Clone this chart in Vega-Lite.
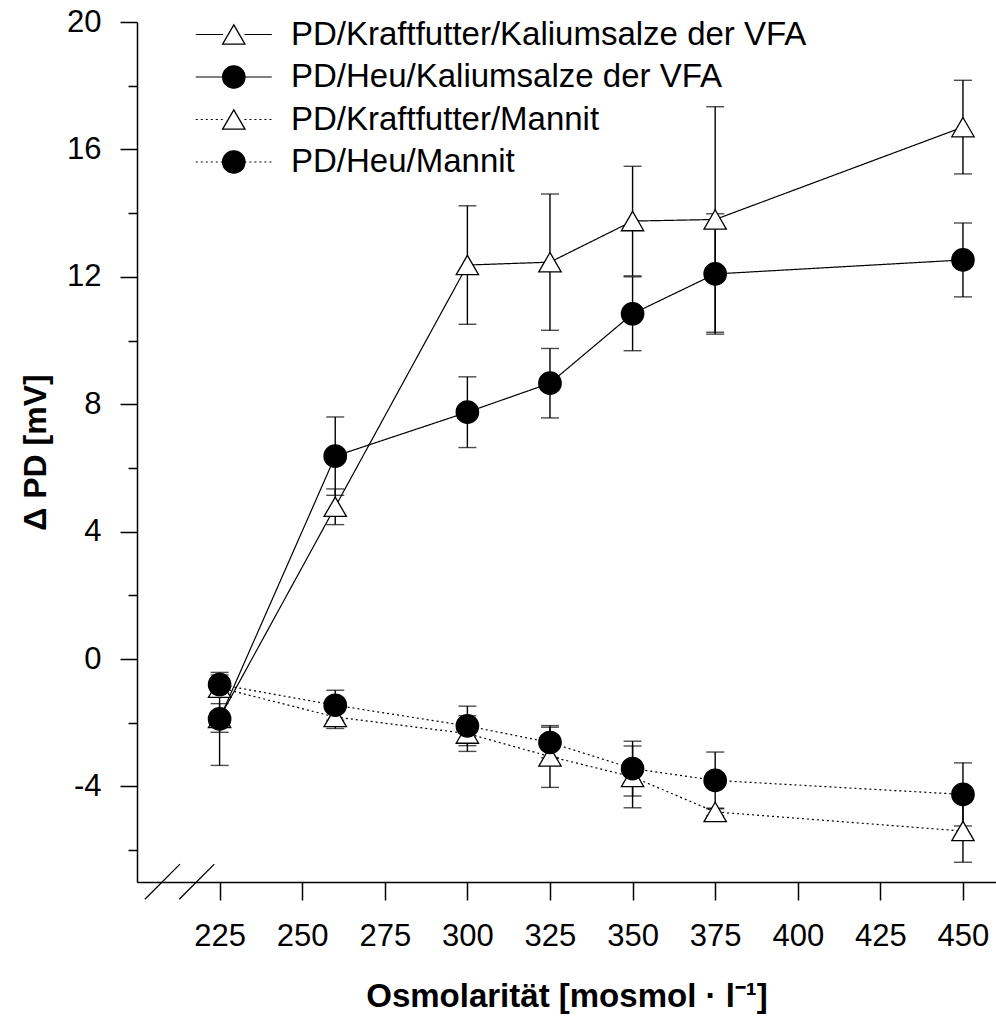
{
  "$schema": "https://vega.github.io/schema/vega-lite/v6.json",
  "width": 859,
  "height": 860,
  "autosize": {"type": "none"},
  "padding": {"left": 137, "top": 22, "right": 0, "bottom": 134},
  "background": "white",
  "config": {
    "view": {"stroke": null},
    "font": "Liberation Sans",
    "axis": {
      "grid": false,
      "domainColor": "black",
      "domainWidth": 1.5,
      "tickColor": "black",
      "tickWidth": 1.5,
      "labelColor": "black",
      "labelFont": "Liberation Sans",
      "labelFontSize": 31,
      "titleColor": "black",
      "titleFont": "Liberation Sans",
      "titleFontWeight": "bold",
      "titleFontSize": 32
    },
    "legend": {"labelFont": "Liberation Sans", "labelFontSize": 33, "labelColor": "black", "labelLimit": 0}
  },
  "datasets": {
    "pd": [
      {"series": "PD/Kraftfutter/Kaliumsalze der VFA", "osm": 225, "pd": -1.85, "se": 0.45},
      {"series": "PD/Kraftfutter/Kaliumsalze der VFA", "osm": 260, "pd": 4.78, "se": 0.56},
      {"series": "PD/Kraftfutter/Kaliumsalze der VFA", "osm": 300, "pd": 12.37, "se": 1.86},
      {"series": "PD/Kraftfutter/Kaliumsalze der VFA", "osm": 325, "pd": 12.46, "se": 2.14},
      {"series": "PD/Kraftfutter/Kaliumsalze der VFA", "osm": 350, "pd": 13.75, "se": 1.72},
      {"series": "PD/Kraftfutter/Kaliumsalze der VFA", "osm": 375, "pd": 13.8, "se": 3.54},
      {"series": "PD/Kraftfutter/Kaliumsalze der VFA", "osm": 450, "pd": 16.7, "se": 1.47},
      {"series": "PD/Heu/Kaliumsalze der VFA", "osm": 225, "pd": -1.88, "se": 1.46},
      {"series": "PD/Heu/Kaliumsalze der VFA", "osm": 260, "pd": 6.37, "se": 1.23},
      {"series": "PD/Heu/Kaliumsalze der VFA", "osm": 300, "pd": 7.75, "se": 1.11},
      {"series": "PD/Heu/Kaliumsalze der VFA", "osm": 325, "pd": 8.66, "se": 1.09},
      {"series": "PD/Heu/Kaliumsalze der VFA", "osm": 350, "pd": 10.84, "se": 1.16},
      {"series": "PD/Heu/Kaliumsalze der VFA", "osm": 375, "pd": 12.09, "se": 1.89},
      {"series": "PD/Heu/Kaliumsalze der VFA", "osm": 450, "pd": 12.53, "se": 1.16},
      {"series": "PD/Kraftfutter/Mannit", "osm": 225, "pd": -0.9, "se": 0.25},
      {"series": "PD/Kraftfutter/Mannit", "osm": 260, "pd": -1.82, "se": 0.36},
      {"series": "PD/Kraftfutter/Mannit", "osm": 300, "pd": -2.34, "se": 0.56},
      {"series": "PD/Kraftfutter/Mannit", "osm": 325, "pd": -3.06, "se": 0.97},
      {"series": "PD/Kraftfutter/Mannit", "osm": 350, "pd": -3.7, "se": 0.97},
      {"series": "PD/Kraftfutter/Mannit", "osm": 375, "pd": -4.8, "se": 0.12},
      {"series": "PD/Kraftfutter/Mannit", "osm": 450, "pd": -5.4, "se": 0.98},
      {"series": "PD/Heu/Mannit", "osm": 225, "pd": -0.8, "se": 0.3},
      {"series": "PD/Heu/Mannit", "osm": 260, "pd": -1.45, "se": 0.47},
      {"series": "PD/Heu/Mannit", "osm": 300, "pd": -2.1, "se": 0.62},
      {"series": "PD/Heu/Mannit", "osm": 325, "pd": -2.62, "se": 0.48},
      {"series": "PD/Heu/Mannit", "osm": 350, "pd": -3.44, "se": 0.86},
      {"series": "PD/Heu/Mannit", "osm": 375, "pd": -3.81, "se": 0.89},
      {"series": "PD/Heu/Mannit", "osm": 450, "pd": -4.25, "se": 0.99}
    ],
    "breaks": [
      {"x1": 202.4, "y1": -7.54, "x2": 213.0, "y2": -6.44},
      {"x1": 212.8, "y1": -7.54, "x2": 223.4, "y2": -6.44}
    ]
  },
  "resolve": {"axis": {"y": "independent"}},
  "layer": [
    {
      "data": {"name": "breaks"},
      "mark": {"type": "rule", "color": "black", "strokeWidth": 1.3, "clip": false},
      "encoding": {
        "x": {"field": "x1", "type": "quantitative", "scale": {"domain": [200, 460], "nice": false, "zero": false},
              "axis": {"values": [225, 250, 275, 300, 325, 350, 375, 400, 425, 450], "tickSize": 18, "labelPadding": 21, "title": "Osmolarität [mosmol · l⁻¹]", "titlePadding": 29, "titleFontSize": 33}},
        "x2": {"field": "x2"},
        "y": {"field": "y1", "type": "quantitative", "scale": {"domain": [-7, 20], "nice": false, "zero": false}, "axis": null},
        "y2": {"field": "y2"}
      }
    },
    {
      "data": {"name": "pd"},
      "mark": {"type": "errorbar", "ticks": {"size": 18}, "thickness": 1.4, "color": "black"},
      "encoding": {
        "x": {"field": "osm", "type": "quantitative", "scale": {"domain": [200, 460], "nice": false, "zero": false},
              "axis": {"values": [225, 250, 275, 300, 325, 350, 375, 400, 425, 450], "tickSize": 18, "labelPadding": 21, "title": "Osmolarität [mosmol · l⁻¹]", "titlePadding": 29, "titleFontSize": 33}},
        "y": {"field": "pd", "type": "quantitative", "scale": {"domain": [-7, 20], "nice": false, "zero": false}, "axis": null},
        "yError": {"field": "se"},
        "detail": {"field": "series", "type": "nominal"}
      }
    },
    {
      "data": {"name": "pd"},
      "mark": {"type": "line", "color": "black", "strokeWidth": 1.2},
      "encoding": {
        "x": {"field": "osm", "type": "quantitative", "scale": {"domain": [200, 460], "nice": false, "zero": false},
              "axis": {"values": [225, 250, 275, 300, 325, 350, 375, 400, 425, 450], "tickSize": 18, "labelPadding": 21, "title": "Osmolarität [mosmol · l⁻¹]", "titlePadding": 29, "titleFontSize": 33}},
        "y": {"field": "pd", "type": "quantitative", "scale": {"domain": [-7, 20], "nice": false, "zero": false},
              "axis": {"orient": "left", "values": [-4, 0, 4, 8, 12, 16, 20], "tickSize": 17, "labelPadding": 19, "title": "Δ PD [mV]", "titlePadding": 14, "labelExpr": "replace(datum.label, '−', '-')"}},
        "strokeDash": {
          "field": "series", "type": "nominal",
          "sort": ["PD/Kraftfutter/Kaliumsalze der VFA", "PD/Heu/Kaliumsalze der VFA", "PD/Kraftfutter/Mannit", "PD/Heu/Mannit"],
          "scale": {"range": [[1, 0], [1, 0], [2, 3], [2, 3]]},
          "legend": {
            "title": null, "orient": "none", "legendX": 80.3, "legendY": -4, "padding": 0,
            "symbolType": "M-3.4,0H-0.95M0.95,0H3.4", "symbolSize": 500,
            "symbolStrokeColor": "black", "symbolStrokeWidth": 1.2, "symbolFillColor": "transparent",
            "labelFontSize": 33, "labelOffset": 40.7, "rowPadding": 8.5, "labelLimit": 0
          }
        }
      }
    },
    {
      "data": {"name": "pd"},
      "mark": {"type": "point", "filled": true, "size": 500, "stroke": "black", "strokeWidth": 1.3, "opacity": 1},
      "encoding": {
        "x": {"field": "osm", "type": "quantitative", "scale": {"domain": [200, 460], "nice": false, "zero": false},
              "axis": {"values": [225, 250, 275, 300, 325, 350, 375, 400, 425, 450], "tickSize": 18, "labelPadding": 21, "title": "Osmolarität [mosmol · l⁻¹]", "titlePadding": 29, "titleFontSize": 33}},
        "y": {"field": "pd", "type": "quantitative", "scale": {"domain": [-7, 20], "nice": false, "zero": false},
              "axis": {"orient": "left", "values": [-6, -2, 2, 6, 10, 14, 18], "tickSize": 9, "labels": false, "domain": false, "title": null}},
        "shape": {
          "field": "series", "type": "nominal",
          "scale": {
            "domain": ["PD/Kraftfutter/Kaliumsalze der VFA", "PD/Heu/Kaliumsalze der VFA", "PD/Kraftfutter/Mannit", "PD/Heu/Mannit"],
            "range": ["triangle-up", "circle", "triangle-up", "circle"]
          },
          "legend": {
            "title": null, "orient": "none", "legendX": 80.3, "legendY": -4, "padding": 0,
            "symbolSize": 500, "symbolStrokeColor": "black", "symbolStrokeWidth": 1.3,
            "labelFontSize": 33, "labelOffset": 40.7, "rowPadding": 8.5, "labelOpacity": 0, "labelLimit": 0
          }
        },
        "color": {
          "field": "series", "type": "nominal",
          "scale": {
            "domain": ["PD/Kraftfutter/Kaliumsalze der VFA", "PD/Heu/Kaliumsalze der VFA", "PD/Kraftfutter/Mannit", "PD/Heu/Mannit"],
            "range": ["white", "black", "white", "black"]
          },
          "legend": {
            "title": null, "orient": "none", "legendX": 80.3, "legendY": -4, "padding": 0,
            "symbolSize": 500, "symbolStrokeColor": "black", "symbolStrokeWidth": 1.3,
            "labelFontSize": 33, "labelOffset": 40.7, "rowPadding": 8.5, "labelOpacity": 0, "labelLimit": 0
          }
        }
      }
    }
  ]
}
